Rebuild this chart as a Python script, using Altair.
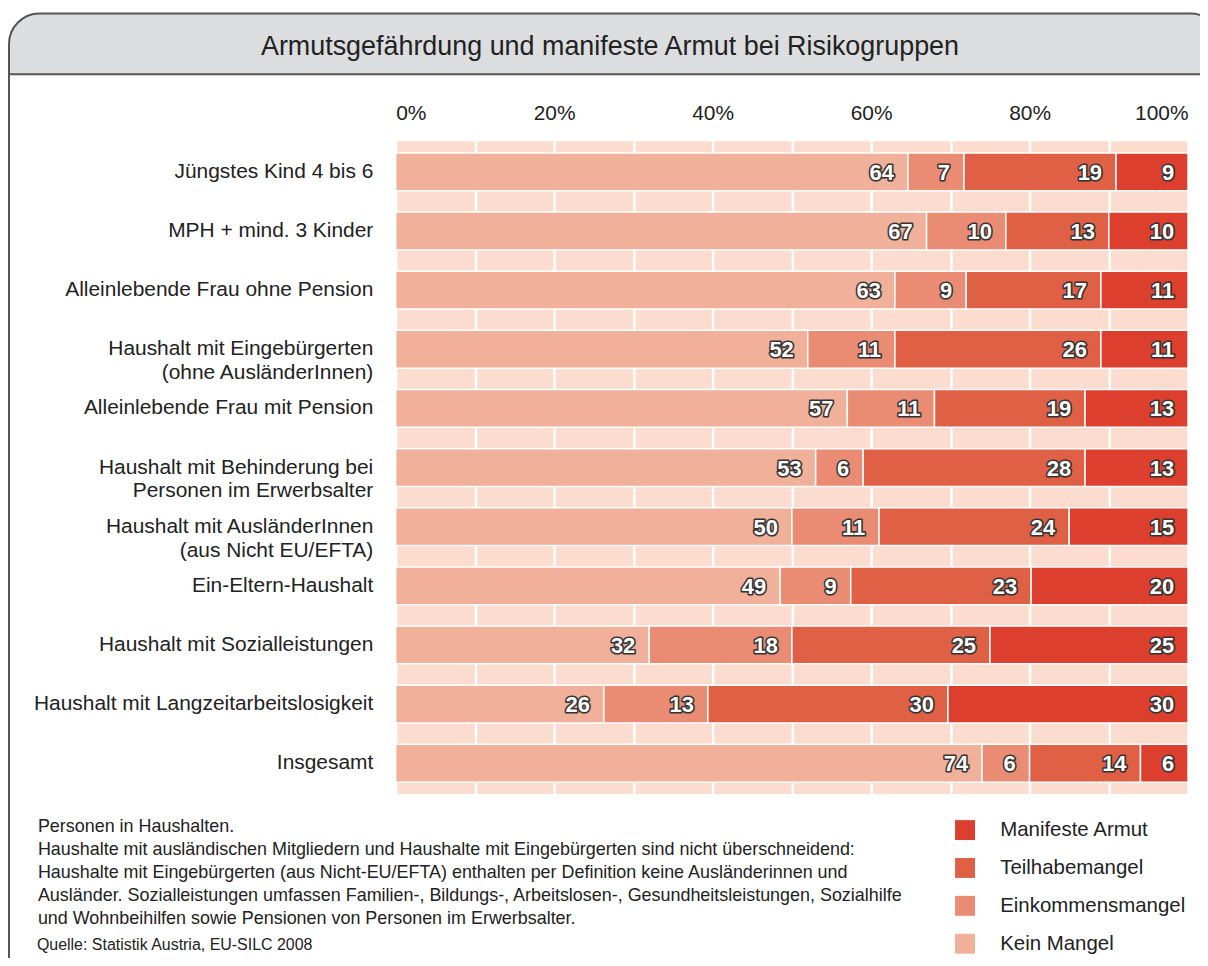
import altair as alt
import pandas as pd

# ---- data ----
categories = [
    "Jüngstes Kind 4 bis 6",
    "MPH + mind. 3 Kinder",
    "Alleinlebende Frau ohne Pension",
    "Haushalt mit Eingebürgerten|(ohne AusländerInnen)",
    "Alleinlebende Frau mit Pension",
    "Haushalt mit Behinderung bei|Personen im Erwerbsalter",
    "Haushalt mit AusländerInnen|(aus Nicht EU/EFTA)",
    "Ein-Eltern-Haushalt",
    "Haushalt mit Sozialleistungen",
    "Haushalt mit Langzeitarbeitslosigkeit",
    "Insgesamt",
]
kein_mangel = [64, 67, 63, 52, 57, 53, 50, 49, 32, 26, 74]
einkommensmangel = [7, 10, 9, 11, 11, 6, 11, 9, 18, 13, 6]
teilhabemangel = [19, 13, 17, 26, 19, 28, 24, 23, 25, 30, 14]
manifeste_armut = [9, 10, 11, 11, 13, 13, 15, 20, 25, 30, 6]

series_stack_order = ["Kein Mangel", "Einkommensmangel", "Teilhabemangel", "Manifeste Armut"]
legend_order = ["Manifeste Armut", "Teilhabemangel", "Einkommensmangel", "Kein Mangel"]
legend_colors = ["#DC3F2E", "#E06046", "#EA8C74", "#F0B09A"]
tick_values = [0, 0.1, 0.2, 0.3, 0.4, 0.5, 0.6, 0.7, 0.8, 0.9, 1.0]

title_text = "Armutsgefährdung und manifeste Armut bei Risikogruppen"
note_lines = [
    "Personen in Haushalten.",
    "Haushalte mit ausländischen Mitgliedern und Haushalte mit Eingebürgerten sind nicht überschneidend:",
    "Haushalte mit Eingebürgerten (aus Nicht-EU/EFTA) enthalten per Definition keine Ausländerinnen und",
    "Ausländer. Sozialleistungen umfassen Familien-, Bildungs-, Arbeitslosen-, Gesundheitsleistungen, Sozialhilfe",
    "und Wohnbeihilfen sowie Pensionen von Personen im Erwerbsalter.",
]
source_text = "Quelle: Statistik Austria, EU-SILC 2008"

FONT = "Liberation Sans"
TXT = "#222222"

rows = []
series_values = [kein_mangel, einkommensmangel, teilhabemangel, manifeste_armut]
for si, (name, vals) in enumerate(zip(series_stack_order, series_values)):
    for c, v in zip(categories, vals):
        rows.append({"cat": c, "series": name, "value": v, "ord": si})
df = pd.DataFrame(rows)

base = alt.Chart(df).transform_stack(
    stack="value",
    as_=["v0", "v1"],
    groupby=["cat"],
    sort=[alt.SortField("ord", order="ascending")],
    offset="normalize",
)

y_enc = alt.Y(
    "cat:N",
    sort=categories,
    scale=alt.Scale(paddingInner=0.36, paddingOuter=0.2),
    axis=alt.Axis(
        title=None,
        labelExpr="split(datum.label, '|')",
        labelFontSize=21,
        labelFont=FONT,
        labelColor=TXT,
        labelPadding=23,
        labelLineHeight=24,
        ticks=False,
        domain=False,
        grid=False,
        labelLimit=400,
    ),
)

x_scale = alt.Scale(domain=[0, 1], nice=False)

bars = base.mark_bar(stroke="white", strokeWidth=1.5).encode(
    y=y_enc,
    x=alt.X(
        "v0:Q",
        scale=x_scale,
        axis=alt.Axis(
            orient="top",
            values=tick_values,
            format=".0%",
            labelExpr="round(datum.value*10) % 2 == 0 ? datum.label : ''",
            grid=True,
            gridColor="white",
            gridWidth=2.5,
            gridOpacity=1,
            ticks=False,
            domain=False,
            labelFontSize=21,
            labelFont=FONT,
            labelColor=TXT,
            labelPadding=18,
            labelFlush=True,
            title=None,
        ),
    ),
    x2="v1:Q",
    color=alt.Color(
        "series:N",
        scale=alt.Scale(domain=legend_order, range=legend_colors),
        legend=alt.Legend(
            orient="none",
            legendX=561,
            legendY=681,
            title=None,
            symbolType="square",
            symbolSize=400,
            symbolStrokeWidth=0,
            labelFontSize=20.5,
            labelFont=FONT,
            labelColor=TXT,
            labelOffset=25,
            rowPadding=17,
            padding=0,
            labelLimit=300,
        ),
    ),
)

outline = base.mark_text(
    align="right", baseline="middle", dx=-14, dy=1, fontSize=22, fontWeight="bold",
    font=FONT, fill="#333333", stroke="#333333", strokeWidth=3.2, strokeJoin="round",
).encode(x="v1:Q", y=alt.Y("cat:N", sort=categories), text="value:Q")

labels = base.mark_text(
    align="right", baseline="middle", dx=-14, dy=1, fontSize=22, fontWeight="bold",
    font=FONT, fill="white",
).encode(x="v1:Q", y=alt.Y("cat:N", sort=categories), text="value:Q")

one = pd.DataFrame({"a": [0]})

header = alt.Chart(one).mark_rect(
    fill="#DCDDDF", stroke="#555555", strokeWidth=2,
    cornerRadiusTopLeft=33, cornerRadiusTopRight=33,
).encode(x=alt.value(-388), x2=alt.value(828), y=alt.value(-128), y2=alt.value(-67))

left_border = alt.Chart(one).mark_rule(stroke="#555555", strokeWidth=2).encode(
    x=alt.value(-388), y=alt.value(-68), y2=alt.value(830)
)

title = alt.Chart(one).mark_text(
    align="center", baseline="middle", fontSize=27, font=FONT, color=TXT
).encode(x=alt.value(215), y=alt.value(-94), text=alt.value(title_text))

notes = alt.Chart(one).mark_text(
    align="left", baseline="alphabetic", fontSize=18, font=FONT, color=TXT, lineHeight=23
).encode(x=alt.value(-359), y=alt.value(693), text=alt.value(note_lines))

source = alt.Chart(one).mark_text(
    align="left", baseline="alphabetic", fontSize=16, font=FONT, color=TXT
).encode(x=alt.value(-360), y=alt.value(812), text=alt.value(source_text))

chart = alt.layer(bars, outline, labels, header, left_border, title, notes, source).properties(
    width=795,
    height=655,
    autosize=alt.AutoSizeParams(type="none"),
    padding={"left": 389, "top": 132, "right": 12, "bottom": 163},
).configure(font=FONT, background="white").configure_view(fill="#FCDCCF", stroke=None)

chart.save("out.html", embed_options={"renderer": "svg", "actions": False})
